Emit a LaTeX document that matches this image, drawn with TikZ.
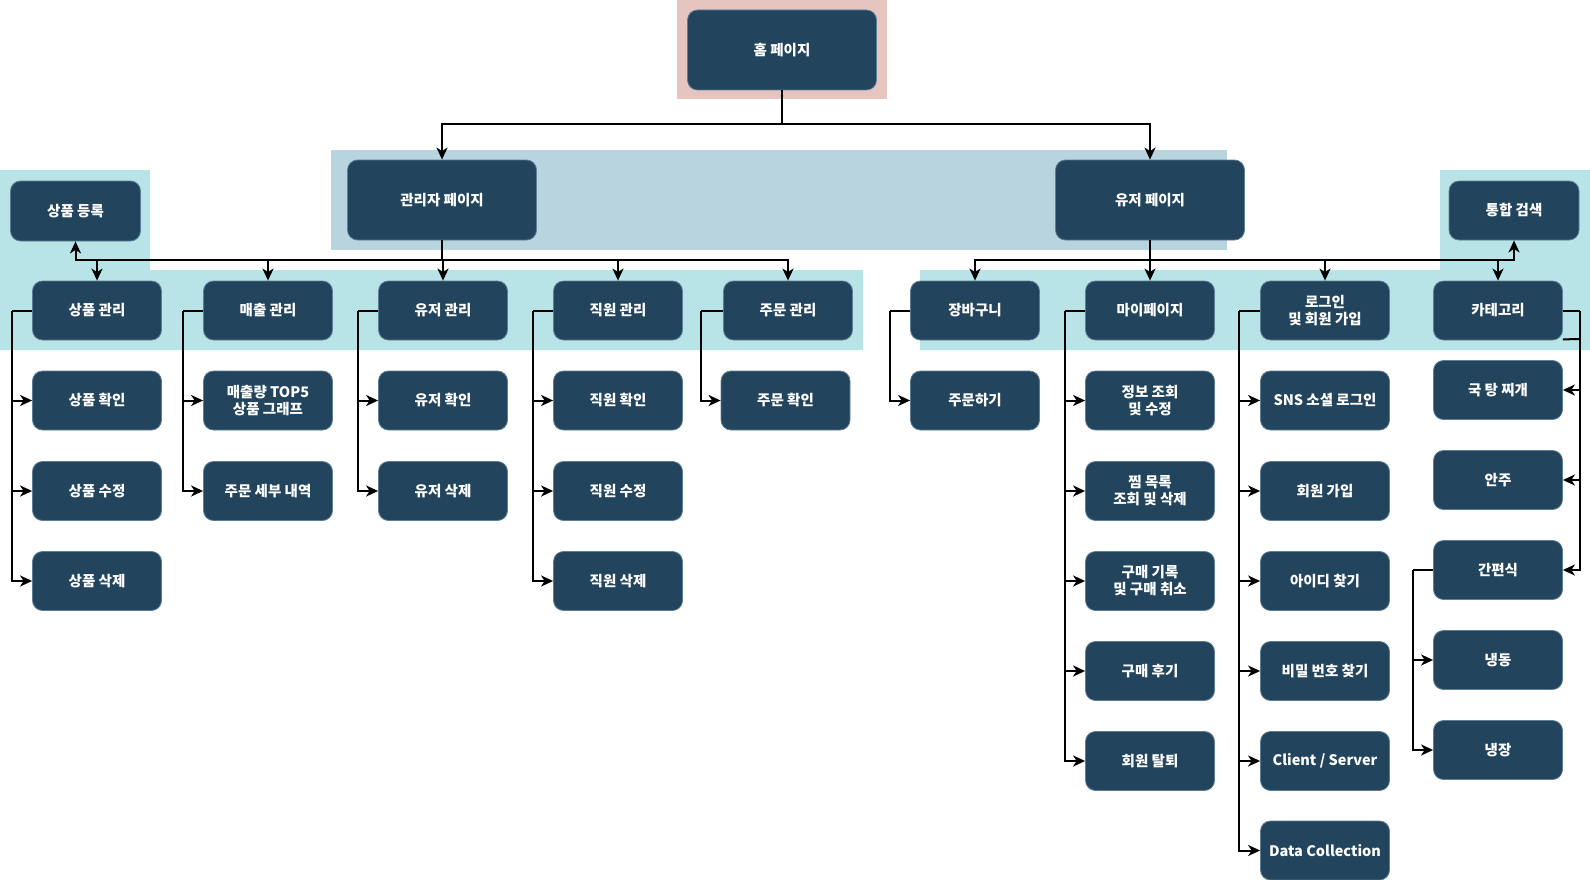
\documentclass[tikz,border=0pt]{standalone}
\usepackage{fontspec}
\newfontfamily\kr{Noto Sans CJK KR}
\usetikzlibrary{arrows.meta}
\definecolor{boxfill}{HTML}{23445D}
\definecolor{boxline}{HTML}{5E7D96}
\definecolor{pinkbg}{HTML}{E6C5C1}
\definecolor{bluebg}{HTML}{B7D4DF}
\definecolor{tealbg}{HTML}{B9E4E7}
\tikzset{
  box/.style={draw=boxline, line width=0.8pt, fill=boxfill, rounded corners=10pt,
    text=white, font=\kr\bfseries\fontsize{14.5}{17}\selectfont, align=center,
    minimum width=129pt, minimum height=59pt, inner sep=2pt},
  bigbox/.style={box, minimum width=189pt, minimum height=80pt},
  arr/.style={line width=2pt, -{Stealth[length=12pt,width=11pt,inset=3.5pt]}},
  ln/.style={line width=2pt},
}
\begin{document}
\begin{tikzpicture}[x=1pt,y=-1pt]
\useasboundingbox (0,0) rectangle (1590,880);
% backgrounds
\fill[pinkbg] (677,0) rectangle (887,99);
\fill[bluebg] (331,150) rectangle (1227,250);
\fill[tealbg] (0,170) -- (150,170) -- (150,270) -- (863,270) -- (863,350) -- (0,350) -- cycle;
\fill[tealbg] (920,270) -- (1440,270) -- (1440,170) -- (1590,170) -- (1590,350) -- (920,350) -- cycle;

% top
\node[bigbox] (hp) at (782,50) {홈 페이지};
\node[bigbox] (adm) at (442,200) {관리자 페이지};
\node[bigbox] (usr) at (1150,200) {유저 페이지};
\node[box, minimum width=130pt, minimum height=60pt] (reg) at (75.5,211) {상품 등록};
\node[box, minimum width=130pt] (srch) at (1514,210.5) {통합 검색};

% admin level 2
\node[box] (a1) at (97,310.5) {상품 관리};
\node[box] (a2) at (268,310.5) {매출 관리};
\node[box] (a3) at (443,310.5) {유저 관리};
\node[box] (a4) at (618,310.5) {직원 관리};
\node[box] (a5) at (788,310.5) {주문 관리};
% user level 2
\node[box] (u1) at (975,310.5) {장바구니};
\node[box] (u2) at (1150,310.5) {마이페이지};
\node[box] (u3) at (1325,310.5) {로그인\\및 회원 가입};
\node[box] (u4) at (1498,310.5) {카테고리};

% admin level 3
\node[box] (a11) at (97,400.5) {상품 확인};
\node[box] (a12) at (97,491) {상품 수정};
\node[box] (a13) at (97,581) {상품 삭제};
\node[box] (a21) at (268,400.5) {매출량 TOP5\\상품 그래프};
\node[box] (a22) at (268,491) {주문 세부 내역};
\node[box] (a31) at (443,400.5) {유저 확인};
\node[box] (a32) at (443,491) {유저 삭제};
\node[box] (a41) at (618,400.5) {직원 확인};
\node[box] (a42) at (618,491) {직원 수정};
\node[box] (a43) at (618,581) {직원 삭제};
\node[box] (a51) at (785.5,400.5) {주문 확인};

% user level 3
\node[box] (u11) at (975,400.5) {주문하기};
\node[box] (u21) at (1150,400.5) {정보 조회\\및 수정};
\node[box] (u22) at (1150,491) {찜 목록\\조회 및 삭제};
\node[box] (u23) at (1150,581) {구매 기록\\및 구매 취소};
\node[box] (u24) at (1150,671) {구매 후기};
\node[box] (u25) at (1150,761) {회원 탈퇴};
\node[box] (u31) at (1325,400.5) {SNS 소셜 로그인};
\node[box] (u32) at (1325,491) {회원 가입};
\node[box] (u33) at (1325,581) {아이디 찾기};
\node[box] (u34) at (1325,671) {비밀 번호 찾기};
\node[box] (u35) at (1325,761) {Client / Server};
\node[box] (u36) at (1325,850.5) {Data Collection};
\node[box] (u41) at (1498,390) {국 탕 찌개};
\node[box] (u42) at (1498,480) {안주};
\node[box] (u43) at (1498,570) {간편식};
\node[box] (u431) at (1498,660) {냉동};
\node[box] (u432) at (1498,750) {냉장};

% home connectors
\coordinate (hb) at (782,124);
\draw[ln] (hp.south) -- (hb);
\draw[arr] (hb) -| (adm.north);
\draw[arr] (hb) -| (usr.north);

% admin bus
\coordinate (ab) at (442,260);
\draw[ln] (adm.south) -- (ab);
\draw[arr] (ab) -| (reg.south);
\draw[arr] (ab) -| (a1.north);
\draw[arr] (ab) -| (a2.north);
\draw[arr] (ab) -| (a3.north);
\draw[arr] (ab) -| (a4.north);
\draw[arr] (ab) -| (a5.north);

% user bus
\coordinate (ub) at (1150,260);
\draw[ln] (usr.south) -- (ub);
\draw[arr] (ub) -| (u1.north);
\draw[arr] (ub) -| (u2.north);
\draw[arr] (ub) -| (u3.north);
\draw[arr] (ub) -| (u4.north);
\draw[arr] (ub) -| (srch.south);

% admin level 3 connectors
\coordinate (x1) at (12,310.5);
\draw[ln] (a1.west) -- (x1);
\foreach \c in {a11,a12,a13} \draw[arr] (x1) |- (\c.west);
\coordinate (x2) at (183,310.5);
\draw[ln] (a2.west) -- (x2);
\foreach \c in {a21,a22} \draw[arr] (x2) |- (\c.west);
\coordinate (x3) at (358,310.5);
\draw[ln] (a3.west) -- (x3);
\foreach \c in {a31,a32} \draw[arr] (x3) |- (\c.west);
\coordinate (x4) at (533,310.5);
\draw[ln] (a4.west) -- (x4);
\foreach \c in {a41,a42,a43} \draw[arr] (x4) |- (\c.west);
\coordinate (x5) at (701,310.5);
\draw[ln] (a5.west) -- (x5);
\draw[arr] (x5) |- (a51.west);

% user level 3 connectors
\coordinate (y1) at (890,310.5);
\draw[ln] (u1.west) -- (y1);
\draw[arr] (y1) |- (u11.west);
\coordinate (y2) at (1065,310.5);
\draw[ln] (u2.west) -- (y2);
\foreach \c in {u21,u22,u23,u24,u25} \draw[arr] (y2) |- (\c.west);
\coordinate (y3) at (1239,310.5);
\draw[ln] (u3.west) -- (y3);
\foreach \c in {u31,u32,u33,u34,u35,u36} \draw[arr] (y3) |- (\c.west);

% category connectors (right side)
\coordinate (y4) at (1580,310.5);
\draw[ln] (u4.east) -- (y4);
\draw[arr] (y4) |- (u41.east);
\coordinate (cb) at ([yshift=1pt]u4.south east);
\coordinate (y4b) at (1580,339);
\draw[ln] (cb) -- (y4b);
\draw[arr] (y4b) |- (u42.east);
\draw[arr] (y4b) |- (u43.east);

% 간편식 subtree
\coordinate (y5) at (1413,570);
\draw[ln] (u43.west) -- (y5);
\draw[arr] (y5) |- (u431.west);
\draw[arr] (y5) |- (u432.west);
\end{tikzpicture}
\end{document}
